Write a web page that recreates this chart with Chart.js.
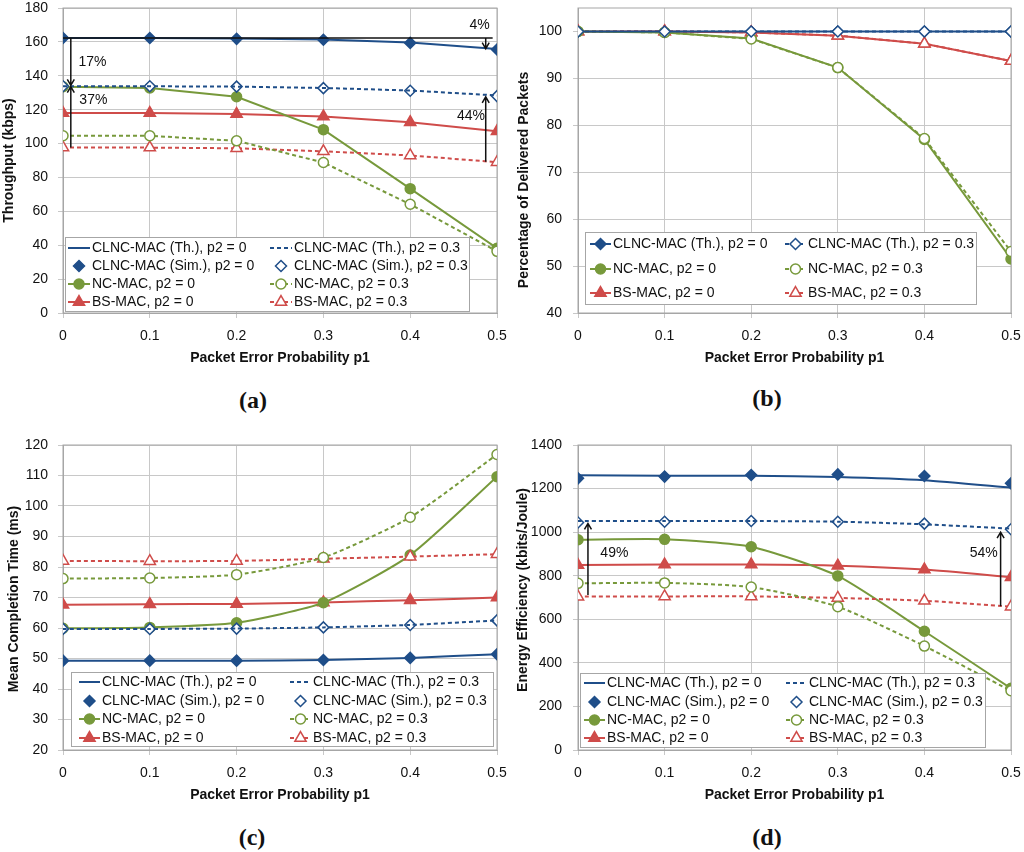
<!DOCTYPE html>
<html>
<head>
<meta charset="utf-8">
<script src="https://cdn.jsdelivr.net/npm/chart.js@4.4.1/dist/chart.umd.min.js"></script>
<style>
  body { margin: 0; background: #fff; width: 1024px; height: 852px; position: relative; overflow: hidden; }
  canvas { position: absolute; }
  .cap { position: absolute; font: bold 24px "Liberation Serif", "DejaVu Serif", serif; color: #111; transform: translate(-50%, -50%); }
</style>
</head>
<body>
<canvas id="chartA" width="512" height="380" style="left:0;top:0"></canvas>
<canvas id="chartB" width="512" height="380" style="left:512px;top:0"></canvas>
<canvas id="chartC" width="512" height="397" style="left:0;top:420px"></canvas>
<canvas id="chartD" width="512" height="397" style="left:512px;top:420px"></canvas>
<div class="cap" style="left:253px;top:400px">(a)</div>
<div class="cap" style="left:767px;top:398px">(b)</div>
<div class="cap" style="left:252px;top:837px">(c)</div>
<div class="cap" style="left:767px;top:837px">(d)</div>
<script>
// packet error probability p1 (x axis)
const P = [0, 0.1, 0.2, 0.3, 0.4, 0.5]
const xTicks = [0, 0.1, 0.2, 0.3, 0.4, 0.5]

// (a) throughput, kbps
const thrClncTh0  = [162.3, 162.3, 162.0, 161.4, 159.6, 155.8]
const thrClncSim0 = [162.3, 162.3, 161.8, 161.3, 159.4, 155.5]
const thrNc0      = [133.5, 132.8, 127.6, 108.2, 73.4, 38.2]
const thrBs0      = [118.0, 118.0, 117.4, 116.0, 112.6, 107.2]
const thrClncTh3  = [133.8, 133.8, 133.6, 132.8, 131.3, 128.4]
const thrClncSim3 = [133.8, 133.8, 133.6, 132.7, 131.2, 128.0]
const thrNc3      = [104.6, 104.6, 101.6, 88.8, 64.2, 36.4]
const thrBs3      = [97.6, 97.6, 97.2, 95.4, 93.0, 89.0]
const yTicksA = [0, 20, 40, 60, 80, 100, 120, 140, 160, 180]

// (b) percentage of delivered packets
const delClnc0 = [100, 100, 100, 100, 100, 100]
const delNc0   = [100, 99.8, 98.5, 92.3, 77.0, 51.5]
const delBs0   = [100, 100, 99.8, 99.1, 97.4, 93.7]
const delClnc3 = [100, 100, 100, 100, 100, 100]
const delNc3   = [100, 99.8, 98.4, 92.3, 77.2, 53.1]
const delBs3   = [100, 100, 99.8, 99.1, 97.4, 93.7]
const yTicksB = [40, 50, 60, 70, 80, 90, 100]

// (c) mean completion time, ms
const mctClncTh0  = [49.3, 49.3, 49.3, 49.5, 50.2, 51.4]
const mctClncSim0 = [49.3, 49.3, 49.3, 49.5, 50.2, 51.4]
const mctNc0      = [59.9, 60.2, 61.7, 68.3, 83.9, 109.6]
const mctBs0      = [67.6, 67.8, 67.9, 68.4, 69.1, 70.0]
const mctClncTh3  = [59.7, 59.7, 59.8, 60.2, 61.0, 62.5]
const mctClncSim3 = [59.7, 59.7, 59.8, 60.2, 61.0, 62.5]
const mctNc3      = [76.2, 76.4, 77.5, 83.1, 96.3, 116.9]
const mctBs3      = [82.0, 81.9, 82.0, 82.7, 83.4, 84.2]
const yTicksC = [20, 30, 40, 50, 60, 70, 80, 90, 100, 110, 120]

// (d) energy efficiency, kbits/Joule
const eeClncTh0  = [1261, 1259, 1259, 1253, 1238, 1204]
const eeClncSim0 = [1247, 1255, 1262, 1265, 1258, 1224]
const eeNc0      = [965, 967, 933, 799, 545, 283]
const eeBs0      = [849, 851, 851, 846, 828, 793]
const eeClncTh3  = [1051, 1051, 1051, 1048, 1036, 1016]
const eeClncSim3 = [1044, 1048, 1051, 1048, 1039, 1013]
const eeNc3      = [765, 767, 748, 658, 477, 272]
const eeBs3      = [704, 705, 705, 698, 685, 658]
const yTicksD = [0, 200, 400, 600, 800, 1000, 1200, 1400]

// gap annotations (data coordinates)
const thrRefLine = [{ y: 162.3, x0: 0, x1: 0.495 }]
const thrArrows = [
  { x: 0.009, from: 162.3, to: 134.4 },
  { x: 0.009, from: 97.6, to: 133.6 },
  { x: 0.487, from: 162.3, to: 156.0 },
  { x: 0.487, from: 89.2, to: 127.6 }
]
const thrNotes = [
  { x: 0.034, y: 148, text: '17%' },
  { x: 0.035, y: 125.5, text: '37%' },
  { x: 0.480, y: 169.6, text: '4%' },
  { x: 0.470, y: 116, text: '44%' }
]
const eeArrows = [
  { x: 0.0115, from: 711, to: 1040 },
  { x: 0.488, from: 660, to: 1000 }
]
const eeNotes = [
  { x: 0.042, y: 903, text: '49%' },
  { x: 0.4685, y: 903, text: '54%' }
]

const FONT = '"Liberation Sans", Arial, sans-serif'
const GRID = '#c8c8c8'
const AXIS = '#a6a6a6'
const BLUE = '#1f4e89'
const GREEN = '#77993b'
const RED = '#cf4c4a'

const KIND = {
  th:  { color: BLUE, marker: null },
  thM: { color: BLUE, marker: 'rectRot', r: 5.5 },
  sim: { color: BLUE, marker: 'rectRot', r: 5.5, noLine: true },
  nc:  { color: GREEN, marker: 'circle', r: 5 },
  bs:  { color: RED, marker: 'triangle', r: 6.5 }
}

function ds(label, values, kind, dashed, tension) {
  const k = KIND[kind]
  const fill = dashed ? '#ffffff' : k.color
  return {
    label: label,
    data: P.map((x, i) => ({ x: x, y: values[i] })),
    borderColor: k.color,
    backgroundColor: fill,
    borderWidth: 2,
    borderDash: dashed ? [4, 3] : [],
    showLine: !k.noLine,
    tension: tension || 0,
    pointStyle: k.marker || 'circle',
    pointRadius: k.marker ? k.r : 0,
    pointHoverRadius: k.marker ? k.r : 0,
    pointBorderWidth: 1.5,
    pointBorderColor: k.color,
    pointBackgroundColor: fill,
    order: dashed ? 1 : 2,
    kind: k,
    dashed: dashed
  }
}

function drawMarker(ctx, style, x, y, r, fill, stroke) {
  ctx.beginPath()
  if (style === 'circle') {
    ctx.arc(x, y, r, 0, Math.PI * 2)
  } else if (style === 'rectRot') {
    ctx.moveTo(x, y - r); ctx.lineTo(x + r, y); ctx.lineTo(x, y + r); ctx.lineTo(x - r, y); ctx.closePath()
  } else {
    for (let k = 0; k < 3; k++) {
      const a = -Math.PI / 2 + k * 2 * Math.PI / 3
      const px = x + Math.cos(a) * r, py = y + Math.sin(a) * r
      k ? ctx.lineTo(px, py) : ctx.moveTo(px, py)
    }
    ctx.closePath()
  }
  ctx.setLineDash([])
  ctx.fillStyle = fill
  ctx.fill()
  ctx.lineWidth = 1.5
  ctx.strokeStyle = stroke
  ctx.stroke()
}

// frame, gap arrows, in-plot legend and axis title
const decor = {
  id: 'decor',
  beforeDatasetsDraw(chart) {
    const a = chart.chartArea, ctx = chart.ctx
    ctx.save()
    ctx.strokeStyle = AXIS
    ctx.lineWidth = 1
    ctx.strokeRect(a.left, a.top, a.right - a.left, a.bottom - a.top)
    ctx.restore()
  },
  afterDatasetsDraw(chart, args, o) {
    const ctx = chart.ctx, xs = chart.scales.x, ys = chart.scales.y
    ctx.save()
    ctx.strokeStyle = '#111'
    ctx.lineWidth = 1.5
    ctx.setLineDash([])
    ;(o.hlines || []).forEach(h => {
      const y = ys.getPixelForValue(h.y)
      ctx.beginPath()
      ctx.moveTo(xs.getPixelForValue(h.x0), y)
      ctx.lineTo(xs.getPixelForValue(h.x1), y)
      ctx.stroke()
    })
    ;(o.arrows || []).forEach(ar => {
      const x = xs.getPixelForValue(ar.x)
      const y0 = ys.getPixelForValue(ar.from), y1 = ys.getPixelForValue(ar.to)
      const dir = y1 > y0 ? 1 : -1
      ctx.beginPath()
      ctx.moveTo(x, y0); ctx.lineTo(x, y1)
      ctx.moveTo(x - 3.5, y1 - dir * 6); ctx.lineTo(x, y1); ctx.lineTo(x + 3.5, y1 - dir * 6)
      ctx.stroke()
    })
    ctx.fillStyle = '#111'
    ctx.font = '14px ' + FONT
    ctx.textAlign = 'center'
    ctx.textBaseline = 'middle'
    ;(o.notes || []).forEach(n => {
      ctx.fillText(n.text, xs.getPixelForValue(n.x), ys.getPixelForValue(n.y))
    })

    // legend box inside the plot
    const lg = o.legend
    const b = lg.box
    ctx.fillStyle = '#ffffff'
    ctx.fillRect(b[0], b[1], b[2] - b[0], b[3] - b[1])
    ctx.strokeStyle = AXIS
    ctx.lineWidth = 1
    ctx.strokeRect(b[0] + 0.5, b[1] + 0.5, b[2] - b[0], b[3] - b[1])
    const sets = chart.data.datasets
    const half = sets.length / 2
    sets.forEach((d, i) => {
      const col = i < half ? 0 : 1
      const y = lg.rows[i % half]
      const x0 = lg.cols[col], x1 = x0 + lg.lineLen
      const k = d.kind
      if (!k.noLine) {
        ctx.beginPath()
        ctx.setLineDash(d.dashed ? [4, 3] : [])
        ctx.strokeStyle = k.color
        ctx.lineWidth = 2
        ctx.moveTo(x0, y); ctx.lineTo(x1, y)
        ctx.stroke()
      }
      if (k.marker) {
        drawMarker(ctx, k.marker, (x0 + x1) / 2, y, k.r, d.dashed ? '#ffffff' : k.color, k.color)
      }
      ctx.fillStyle = '#111'
      ctx.font = '14px ' + FONT
      ctx.textAlign = 'left'
      ctx.fillText(d.label, x1 + lg.textGap, y)
    })
    ctx.restore()
  },
  afterDraw(chart, args, o) {
    const a = chart.chartArea, ctx = chart.ctx
    ctx.save()
    ctx.translate(o.yTitle.x, (a.top + a.bottom) / 2 + o.yTitle.dy)
    ctx.rotate(-Math.PI / 2)
    ctx.fillStyle = '#111'
    ctx.font = 'bold 14px ' + FONT
    ctx.textAlign = 'center'
    ctx.textBaseline = 'middle'
    ctx.fillText(o.yTitle.text, 0, 0)
    ctx.restore()
  }
}

function scales(yMin, yMax, yTicks, yWidth) {
  return {
    x: {
      type: 'linear', min: 0, max: 0.5,
      afterBuildTicks: s => { s.ticks = xTicks.map(v => ({ value: v })) },
      afterFit: s => { s.height = 67; s.paddingLeft = 0; s.paddingRight = 0 },
      grid: { color: GRID, tickLength: 5 },
      border: { color: AXIS },
      ticks: { font: { family: FONT, size: 14 }, color: '#111', padding: 10, maxRotation: 0, callback: v => String(v) },
      title: { display: true, text: 'Packet Error Probability p1', color: '#111',
        font: { family: FONT, size: 14, weight: 'bold' }, padding: { top: 0, bottom: 13 } }
    },
    y: {
      type: 'linear', min: yMin, max: yMax,
      afterBuildTicks: s => { s.ticks = yTicks.map(v => ({ value: v })) },
      afterFit: s => { s.width = yWidth; s.paddingTop = 0; s.paddingBottom = 0 },
      grid: { color: GRID, tickLength: 5 },
      border: { color: AXIS },
      ticks: { font: { family: FONT, size: 14 }, color: '#111', padding: yWidth > 64 ? 11 : 10, callback: v => String(v) }
    }
  }
}

function makeChart(id, datasets, sc, pad, deco) {
  return new Chart(document.getElementById(id), {
    type: 'line',
    data: { datasets: datasets },
    options: {
      responsive: false,
      animation: false,
      layout: { padding: pad },
      scales: sc,
      plugins: { legend: { display: false }, tooltip: { enabled: false }, decor: deco }
    },
    plugins: [decor]
  })
}

makeChart('chartA', [
  ds('CLNC-MAC (Th.), p2 = 0', thrClncTh0, 'th', false),
  ds('CLNC-MAC (Sim.), p2 = 0', thrClncSim0, 'sim', false),
  ds('NC-MAC, p2 = 0', thrNc0, 'nc', false),
  ds('BS-MAC, p2 = 0', thrBs0, 'bs', false),
  ds('CLNC-MAC (Th.), p2 = 0.3', thrClncTh3, 'th', true),
  ds('CLNC-MAC (Sim.), p2 = 0.3', thrClncSim3, 'sim', true),
  ds('NC-MAC, p2 = 0.3', thrNc3, 'nc', true),
  ds('BS-MAC, p2 = 0.3', thrBs3, 'bs', true)
], scales(0, 180, yTicksA, 63), { top: 8, right: 15, left: 0, bottom: 0 }, {
  hlines: thrRefLine, arrows: thrArrows, notes: thrNotes,
  legend: { box: [65, 237, 469, 311], rows: [248, 266, 284, 302], cols: [68, 270], lineLen: 22, textGap: 2 },
  yTitle: { text: 'Throughput (kbps)', x: 9, dy: 0 }
})

makeChart('chartB', [
  ds('CLNC-MAC (Th.), p2 = 0', delClnc0, 'thM', false),
  ds('NC-MAC, p2 = 0', delNc0, 'nc', false),
  ds('BS-MAC, p2 = 0', delBs0, 'bs', false),
  ds('CLNC-MAC (Th.), p2 = 0.3', delClnc3, 'thM', true),
  ds('NC-MAC, p2 = 0.3', delNc3, 'nc', true),
  ds('BS-MAC, p2 = 0.3', delBs3, 'bs', true)
], scales(40, 105, yTicksB, 66), { top: 8, right: 13, left: 0, bottom: 0 }, {
  legend: { box: [73, 232, 464, 304], rows: [244, 269, 293], cols: [78, 273], lineLen: 21, textGap: 2 },
  yTitle: { text: 'Percentage of Delivered Packets', x: 12.5, dy: 19.5 }
})

makeChart('chartC', [
  ds('CLNC-MAC (Th.), p2 = 0', mctClncTh0, 'th', false, 0.2),
  ds('CLNC-MAC (Sim.), p2 = 0', mctClncSim0, 'sim', false),
  ds('NC-MAC, p2 = 0', mctNc0, 'nc', false, 0.2),
  ds('BS-MAC, p2 = 0', mctBs0, 'bs', false, 0.2),
  ds('CLNC-MAC (Th.), p2 = 0.3', mctClncTh3, 'th', true, 0.2),
  ds('CLNC-MAC (Sim.), p2 = 0.3', mctClncSim3, 'sim', true),
  ds('NC-MAC, p2 = 0.3', mctNc3, 'nc', true, 0.2),
  ds('BS-MAC, p2 = 0.3', mctBs3, 'bs', true, 0.2)
], scales(20, 120, yTicksC, 63), { top: 25, right: 15, left: 0, bottom: 0 }, {
  legend: { box: [71, 252, 493, 326], rows: [262, 281, 299, 318], cols: [79, 290], lineLen: 21, textGap: 2 },
  yTitle: { text: 'Mean Completion Time (ms)', x: 14.5, dy: 1.5 }
})

makeChart('chartD', [
  ds('CLNC-MAC (Th.), p2 = 0', eeClncTh0, 'th', false, 0.2),
  ds('CLNC-MAC (Sim.), p2 = 0', eeClncSim0, 'sim', false),
  ds('NC-MAC, p2 = 0', eeNc0, 'nc', false, 0.2),
  ds('BS-MAC, p2 = 0', eeBs0, 'bs', false, 0.2),
  ds('CLNC-MAC (Th.), p2 = 0.3', eeClncTh3, 'th', true, 0.2),
  ds('CLNC-MAC (Sim.), p2 = 0.3', eeClncSim3, 'sim', true),
  ds('NC-MAC, p2 = 0.3', eeNc3, 'nc', true, 0.2),
  ds('BS-MAC, p2 = 0.3', eeBs3, 'bs', true, 0.2)
], scales(0, 1400, yTicksD, 66), { top: 25, right: 13, left: 0, bottom: 0 }, {
  arrows: eeArrows, notes: eeNotes,
  legend: { box: [68, 253, 473, 327], rows: [263, 282, 300, 318], cols: [72, 274], lineLen: 21, textGap: 2 },
  yTitle: { text: 'Energy Efficiency (kbits/Joule)', x: 11, dy: -7.5 }
})
</script>
</body>
</html>
